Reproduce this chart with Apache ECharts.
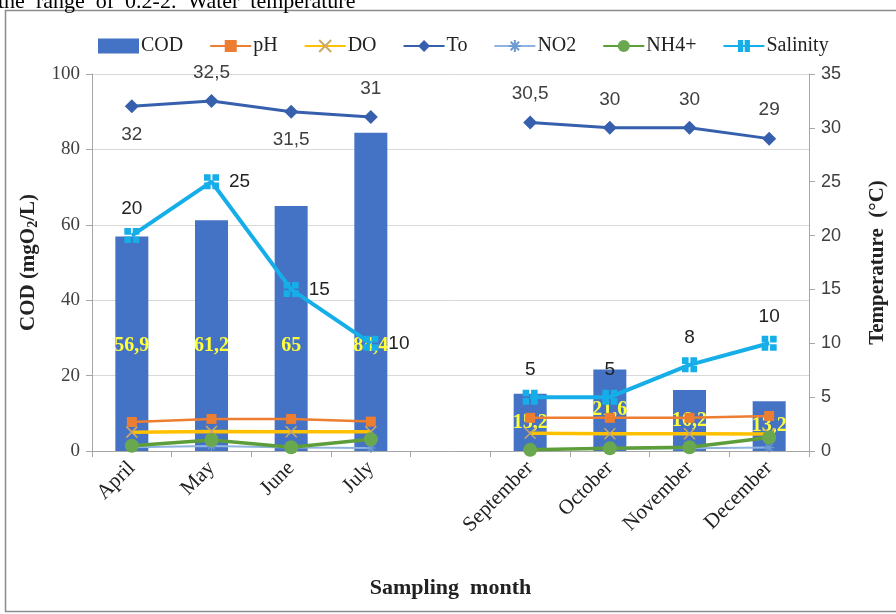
<!DOCTYPE html>
<html><head><meta charset="utf-8">
<script src="https://cdn.jsdelivr.net/npm/echarts@6/dist/echarts.min.js"></script>
<style>html,body{margin:0;padding:0;background:#fff}#c{width:896px;height:614px}</style>
</head><body><div id="c"></div>
<script>
const months = ['April','May','June','July','','September','October','November','December'];
const cod = [56.9, 61.2, 65, 84.4, null, 15.2, 21.6, 16.2, 13.2];
const ph = [7.7, 8.5, 8.5, 7.8, null, 8.8, 8.8, 8.8, 9.3];
const dov = [5.0, 5.2, 5.1, 5.1, null, 4.7, 4.6, 4.6, 4.5];
const temp = [32, 32.5, 31.5, 31, null, 30.5, 30, 30, 29];
const no2 = [1.0, 1.3, 0.9, 0.8, null, 0.5, 0.6, 0.7, 0.9];
const nh4 = [1.4, 2.9, 1.0, 3.1, null, 0.3, 0.7, 1.0, 3.6];
const salinity = [20, 25, 15, 10, null, 5, 5, 8, 10];
const leftTicks = [0, 20, 40, 60, 80, 100];
const rightTicks = [0, 5, 10, 15, 20, 25, 30, 35];

const fmt = v => String(v).replace('.', ',');
const serif = '"Liberation Serif","Times New Roman",serif';
const sans = '"Liberation Sans","Open Sans",sans-serif';
const txt = '#404040';

const chart = echarts.init(document.getElementById('c'), null, {renderer:'canvas'});
const option = {
  animation:false,
  backgroundColor:'#fff',
  graphic:[
    {type:'rect', shape:{x:5.5, y:10.5, width:900, height:601}, style:{fill:'none', stroke:'#8c8c8c', lineWidth:1.5}, z:-10},
    {type:'text', left:-2, top:-9, style:{text:'the  range  of  0.2-2.  Water  temperature', font:'22px '+serif, fill:'#000'}}
  ],
  legend:{
    top:31, left:93, itemGap:26, itemWidth:41, itemHeight:15,
    textStyle:{fontFamily:serif, fontSize:20, color:'#222', padding:[0,0,0,-3]},
    data:[{name:'COD', icon:'rect'}, 'pH', 'DO', 'To', 'NO2', 'NH4+', 'Salinity']
  },
  grid:{left:92, right:85, top:74, bottom:163},
  xAxis:{
    type:'category', data:months, boundaryGap:true,
    name:'Sampling  month', nameLocation:'middle', nameGap:126,
    nameTextStyle:{fontFamily:serif, fontSize:22, fontWeight:'bold', color:'#222'},
    axisLine:{lineStyle:{color:'#a6a6a6'}},
    axisTick:{show:true, interval:0, length:6, lineStyle:{color:'#a6a6a6'}},
    axisLabel:{interval:0, rotate:45, margin:14, fontFamily:serif, fontSize:21, color:'#222'}
  },
  yAxis:[
    {type:'value', min:0, max:100, interval:20,
     name:'{a|COD (mgO}{s|2}{a|/L)}', nameLocation:'middle', nameRotate:90, nameGap:52,
     nameTextStyle:{rich:{a:{fontFamily:serif, fontSize:21, fontWeight:'bold', color:'#222'}, s:{fontFamily:serif, fontSize:14, fontWeight:'bold', color:'#222', padding:[9,0,0,0]}}},
     axisLine:{show:true, lineStyle:{color:'#a6a6a6'}},
     axisTick:{show:true, length:6, lineStyle:{color:'#a6a6a6'}},
     axisLabel:{fontFamily:serif, fontSize:19, color:txt, margin:12},
     splitLine:{lineStyle:{color:'#d9d9d9'}}},
    {type:'value', min:0, max:35, interval:5,
     name:'Temperature  (°C)', nameLocation:'middle', nameRotate:90, nameGap:58,
     nameTextStyle:{fontFamily:serif, fontSize:21, fontWeight:'bold', color:'#222'},
     axisLine:{show:true, lineStyle:{color:'#a6a6a6'}},
     axisTick:{show:true, length:6, lineStyle:{color:'#a6a6a6'}},
     axisLabel:{fontFamily:sans, fontSize:18, color:txt, margin:12},
     splitLine:{show:false}}
  ],
  series:[
    {name:'COD', type:'bar', yAxisIndex:0, barWidth:33, z:1,
     itemStyle:{color:'#4472C4'},
     data:cod.map((v,i)=> v==null? null : ({value:v, label:{
        position: i<4 ? ['50%', (100*(v-28)/v).toFixed(1)+'%'] : 'inside'}})),
     label:{show:true, align:'center', verticalAlign:'middle', formatter:p=>fmt(p.value), fontFamily:serif, fontSize:20, fontWeight:'bold', color:'#FFFF3C'}},
    {name:'pH', type:'line', yAxisIndex:0, data:ph, z:3,
     lineStyle:{color:'#ED7D31', width:2.5}, itemStyle:{color:'#ED7D31'},
     symbol:'rect', symbolSize:10},
    {name:'DO', type:'line', yAxisIndex:0, data:dov, z:3,
     lineStyle:{color:'#FFC000', width:3.5}, itemStyle:{color:'#FFC000', borderColor:'#C9A96A', borderWidth:1.5},
     symbol:'path://M0,0L10,10M10,0L0,10', symbolSize:11},
    {name:'To', type:'line', yAxisIndex:1, data:temp.map((v,i)=> v==null? null : ({value:v, label:{position:(i===0||i===2)?'bottom':'top'}})), z:4,
     lineStyle:{color:'#3660AE', width:3}, itemStyle:{color:'#3660AE'},
     symbol:'diamond', symbolSize:14,
     label:{show:true, distance:12, formatter:p=>fmt(p.value), fontFamily:sans, fontSize:19, color:txt}},
    {name:'NO2', type:'line', yAxisIndex:0, data:no2, z:3,
     lineStyle:{color:'#8FB4E0', width:2}, itemStyle:{color:'#8FB4E0', borderColor:'#6E9BD2', borderWidth:1.2},
     symbol:'path://M5,0L5,10M0,5L10,5M1.5,1.5L8.5,8.5M8.5,1.5L1.5,8.5', symbolSize:10},
    {name:'NH4+', type:'line', yAxisIndex:0, data:nh4, z:3,
     lineStyle:{color:'#5E9E3A', width:3.5}, itemStyle:{color:'#6AA84F'},
     symbol:'circle', symbolSize:14},
    {name:'Salinity', type:'line', yAxisIndex:1, data:salinity.map((v,i)=> v==null? null : ({value:v, label:{position:(i>=1&&i<=3)?'right':'top'}})), z:4,
     lineStyle:{color:'#16AEE8', width:4}, itemStyle:{color:'#16AEE8'},
     symbol:'path://M0,0H4.4V4.4H0Z M5.6,0H10V4.4H5.6Z M0,5.6H4.4V10H0Z M5.6,5.6H10V10H5.6Z', symbolSize:15,
     label:{show:true, distance:10, formatter:p=>fmt(p.value), fontFamily:sans, fontSize:19, color:'#222'}}
  ]
};
chart.setOption(option);
</script></body></html>
